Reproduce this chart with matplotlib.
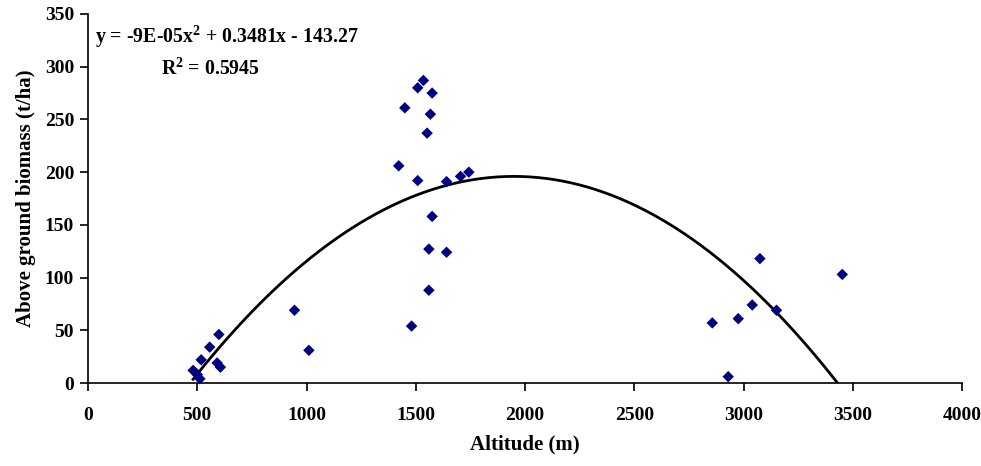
import numpy as np
import matplotlib
matplotlib.use("Agg")
import matplotlib.pyplot as plt

# Data
altitude = [481, 500, 512, 518, 557, 591, 599, 606,
            945, 1011,
            1422, 1450, 1481, 1509, 1509, 1535, 1552, 1560, 1560, 1567,
            1575, 1575, 1641, 1641, 1705, 1743,
            2857, 2930, 2976, 3040, 3075, 3151, 3452]
biomass = [12, 8, 4, 22, 34, 19, 46, 15,
           69, 31,
           206, 261, 54, 280, 192, 287, 237, 127, 88, 255,
           275, 158, 191, 124, 196, 200,
           57, 6, 61, 74, 118, 69, 103]

# Polynomial trendline coefficients (2nd order)
trend_coef = [-8.93e-05, 0.3481, -143.27]
equation_text = "y = -9E-05x$^{2}$ + 0.3481x - 143.27"
r2_text = "R$^{2}$ = 0.5945"

x_ticks = [0, 500, 1000, 1500, 2000, 2500, 3000, 3500, 4000]
y_ticks = [0, 50, 100, 150, 200, 250, 300, 350]

plt.rcParams['font.family'] = ['Liberation Serif', 'DejaVu Serif']
plt.rcParams['mathtext.fontset'] = 'custom'
plt.rcParams['mathtext.rm'] = 'Liberation Serif:bold'
plt.rcParams['mathtext.it'] = 'Liberation Serif:bold'
plt.rcParams['mathtext.bf'] = 'Liberation Serif:bold'

fig = plt.figure(figsize=(9.81, 4.66), dpi=100)
ax = fig.add_axes([88/981, 83/466, (962-88)/981, (383-14)/466])

xs = np.linspace(min(altitude), max(altitude), 400)
ys = np.polyval(trend_coef, xs)
ax.plot(xs, ys, color='black', lw=2.0, zorder=2, clip_on=True)

ax.scatter(altitude, biomass, marker='D', s=34, color='#000080',
           edgecolors='none', zorder=3, clip_on=False)

ax.set_xlim(0, 4000)
ax.set_ylim(0, 350)
ax.set_xticks(x_ticks)
ax.set_yticks(y_ticks)
ax.tick_params(direction='out', length=6, width=1.2, labelsize=14, pad=4)
ax.tick_params(axis='x', pad=11)
for lab in ax.get_xticklabels() + ax.get_yticklabels():
    lab.set_fontweight('bold')

for s in ['top', 'right']:
    ax.spines[s].set_visible(False)
for s in ['left', 'bottom']:
    ax.spines[s].set_linewidth(1.2)

ax.set_xlabel("Altitude (m)", fontsize=15, fontweight='bold', labelpad=8)
ax.set_ylabel("Above ground biomass (t/ha)", fontsize=15, fontweight='bold', labelpad=6)

fig.text(95/981, 1 - 37/466, equation_text, fontsize=14.3, fontweight='bold',
         ha='left', va='center')
fig.text(210/981, 1 - 69/466, r2_text, fontsize=14.3, fontweight='bold',
         ha='center', va='center')

fig.savefig("out.png", dpi=100)
